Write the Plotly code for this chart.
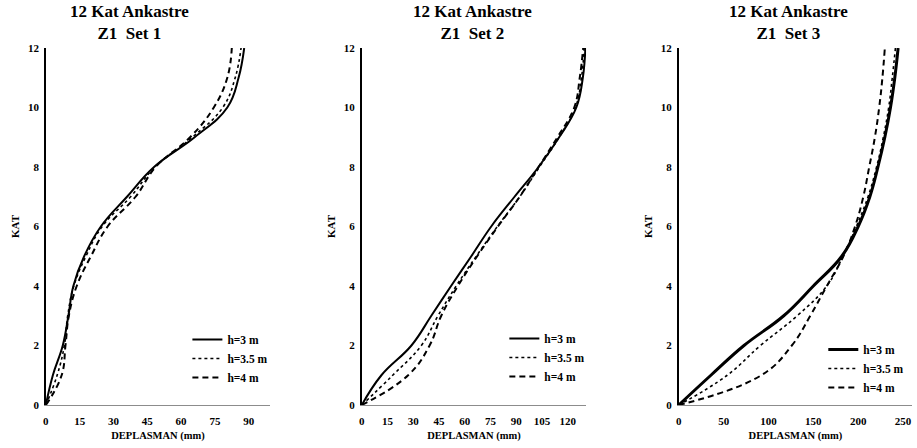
import plotly.graph_objects as go

kat = [0, 1, 2, 3, 4, 5, 6, 7, 8, 9, 10, 11, 12]

# Set 1
s1_h3 = [0, 3.1, 7.5, 10.0, 12.2, 17.0, 24.4, 36.0, 48.0, 66.0, 80.5, 85.5, 88.0]
s1_h35 = [0, 5.0, 8.2, 9.7, 12.4, 17.8, 25.0, 37.6, 48.4, 65.0, 78.5, 84.0, 86.6]
s1_h4 = [0, 7.0, 8.7, 10.2, 13.7, 20.0, 27.4, 39.8, 48.7, 64.0, 74.5, 80.5, 82.5]

# Set 2
s2_h3 = [0, 11.4, 28.9, 40.5, 52.0, 63.8, 75.4, 89.0, 103.0, 115.0, 125.0, 128.8, 130.3]
s2_h35 = [0, 18.0, 34.7, 44.4, 55.0, 66.7, 79.0, 92.0, 103.5, 115.0, 124.5, 128.0, 129.6]
s2_h4 = [0, 27.0, 39.5, 46.3, 56.0, 67.2, 79.3, 92.0, 103.0, 114.0, 123.8, 127.0, 129.0]

# Set 3
s3_h3 = [0, 35.8, 72.7, 117.0, 150.0, 181.7, 200.0, 213.0, 222.0, 229.7, 236.0, 240.8, 244.5]
s3_h35 = [0, 54.0, 91.0, 132.0, 165.0, 183.0, 198.0, 211.0, 220.5, 228.0, 234.0, 238.0, 241.5]
s3_h4 = [0, 92.0, 126.0, 146.6, 165.0, 183.5, 196.5, 205.7, 212.3, 218.6, 223.4, 227.0, 229.7]

series_names = ["h=3 m", "h=3.5 m", "h=4 m"]
titles = ["12 Kat Ankastre<br>Z1  Set 1", "12 Kat Ankastre<br>Z1  Set 2", "12 Kat Ankastre<br>Z1  Set 3"]
x_ticks = [[0, 15, 30, 45, 60, 75, 90], [0, 15, 30, 45, 60, 75, 90, 105, 120], [0, 50, 100, 150, 200, 250]]
x_ranges = [[0, 99.5], [0, 130.7], [0, 260]]
y_ticks = [0, 2, 4, 6, 8, 10, 12]

FONT = "Liberation Serif"
data_sets = [[s1_h3, s1_h35, s1_h4], [s2_h3, s2_h35, s2_h4], [s3_h3, s3_h35, s3_h4]]
dashes = ["solid", "dot", "6px,4px"]

fig = go.Figure()
domains = [[43 / 917, 268 / 917], [360 / 917, 585 / 917], [678 / 917, 912 / 917]]
for p in range(3):
    xa = "x" if p == 0 else f"x{p+1}"
    ya = "y" if p == 0 else f"y{p+1}"
    lg = "legend" if p == 0 else f"legend{p+1}"
    for i in range(3):
        w = 2 if i != 1 else 1.6
        if p == 2 and i == 0:
            w = 3
        fig.add_trace(go.Scatter(
            x=data_sets[p][i], y=kat, mode="lines", name=series_names[i],
            line=dict(color="black", width=w, dash=dashes[i], shape="spline", smoothing=1.2),
            xaxis=xa, yaxis=ya, legend=lg, showlegend=True,
        ))

tickfont = dict(family=FONT, size=11, color="black", weight="bold")
layout = dict(
    width=917, height=448,
    margin=dict(l=0, r=0, t=48, b=43),
    plot_bgcolor="white", paper_bgcolor="white",
    font=dict(family=FONT, color="black"),
)
for p in range(3):
    xk = "xaxis" if p == 0 else f"xaxis{p+1}"
    yk = "yaxis" if p == 0 else f"yaxis{p+1}"
    layout[xk] = dict(
        domain=domains[p], range=x_ranges[p], tickvals=x_ticks[p], showgrid=False,
        zeroline=False, showline=True, linecolor="#8c8c8c", linewidth=1, ticks="",
        tickfont=tickfont, anchor="y" if p == 0 else f"y{p+1}", ticklabelstandoff=6,
        title=dict(text="DEPLASMAN (mm)", font=dict(family=FONT, size=10.5, color="black", weight="bold"), standoff=5),
    )
    layout[yk] = dict(
        domain=[0, 1], range=[0, 12], tickvals=y_ticks, showgrid=False, zeroline=False,
        showline=True, linecolor="black", linewidth=1.5, ticks="", tickfont=tickfont,
        anchor="x" if p == 0 else f"x{p+1}", ticklabelstandoff=3,
        title=dict(text="KAT", font=dict(family=FONT, size=11, color="black", weight="bold"), standoff=6),
    )
legend_pos = [(185 / 917, 325), (503 / 917, 324), (823 / 917, 335)]
for p in range(3):
    lk = "legend" if p == 0 else f"legend{p+1}"
    xpos, ypx = legend_pos[p]
    layout[lk] = dict(
        x=xpos, y=1 - (ypx - 48) / (448 - 48 - 43), xanchor="left", yanchor="top",
        xref="paper", yref="paper",
        font=dict(family=FONT, size=11.5, color="black", weight="bold"),
        bgcolor="rgba(0,0,0,0)", tracegroupgap=0, itemwidth=30,
    )
fig.update_layout(**layout)

title_x = [127, 471, 788]
for p in range(3):
    fig.add_annotation(
        text=titles[p], x=title_x[p] / 917, y=1, xref="paper", yref="paper",
        yshift=48, xanchor="center", yanchor="top", showarrow=False,
        font=dict(family=FONT, size=17, color="black", weight="bold"),
    )

fig.write_html(
    "out.html",
    config={"displayModeBar": False},
    post_script="document.body.style.margin='0';document.body.style.padding='0';",
)
